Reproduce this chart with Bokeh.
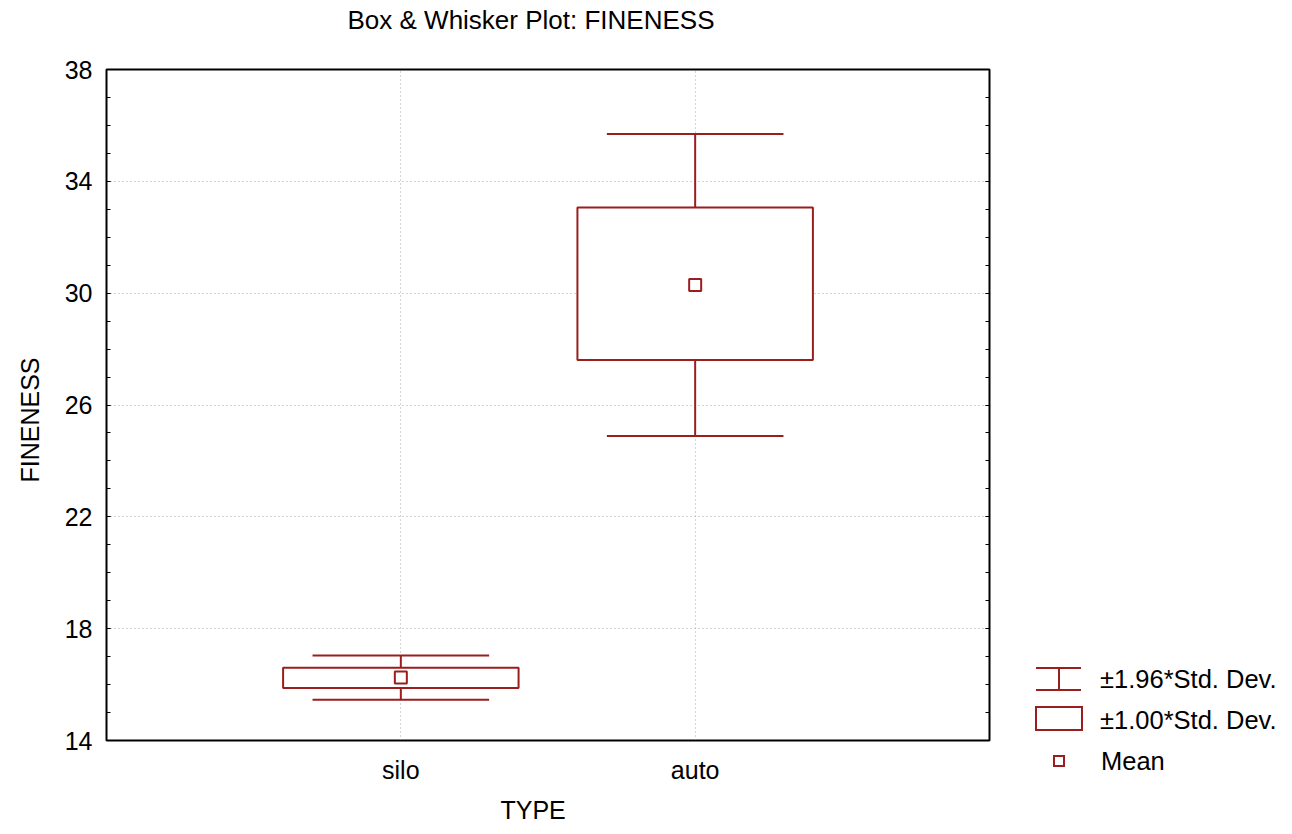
from bokeh.plotting import figure
from bokeh.models import Range1d, FixedTicker, LinearAxis, Title, Div
from bokeh.layouts import row, column
from bokeh.embed import file_html
from bokeh.resources import INLINE

categories = ["silo", "auto"]
means = [16.25, 30.29]
box_low = [15.88, 27.61]
box_high = [16.60, 33.06]
whisker_low = [15.46, 24.89]
whisker_high = [17.04, 35.69]
y_ticks = [14, 18, 22, 26, 30, 34, 38]
legend_labels = ["\u00b11.96*Std. Dev.", "\u00b11.00*Std. Dev.", "Mean"]
chart_title = "Box & Whisker Plot: FINENESS"

FONT = "Liberation Sans"
RED = "#9a1e1e"
xs = [i + 1 for i in range(len(categories))]
TOP = 40  # height of the title strip

# ---- title strip ----
title_svg = (
    f'<svg width="1292" height="{TOP}" style="display:block" xmlns="http://www.w3.org/2000/svg">'
    f'<text x="531" y="29" text-anchor="middle" font-family="{FONT}" font-size="26px" fill="black">'
    f'{chart_title.replace("&", "&amp;")}</text></svg>'
)
title_div = Div(text=title_svg, width=1292, height=TOP, margin=0)

# ---- main plot ----
p = figure(width=1010, height=834 - TOP, x_range=Range1d(0, len(categories) + 1),
           y_range=Range1d(y_ticks[0], y_ticks[-1]),
           output_backend="svg", toolbar_location=None, margin=0,
           min_border_left=106, min_border_right=21, min_border_top=69 - TOP, min_border_bottom=93)
p.title.visible = False
tb = Title(text="TYPE", align="left", offset=394, text_font=FONT, text_font_size="25px",
           text_font_style="normal", text_color="black", standoff=18, vertical_align="top")
p.add_layout(tb, "below")
tl = Title(text="FINENESS", align="left", offset=258, text_font=FONT, text_font_size="25px",
           text_font_style="normal", text_color="black", standoff=31, vertical_align="top")
p.add_layout(tl, "left")

p.outline_line_color = "black"
p.outline_line_width = 2
p.background_fill_color = "white"
p.border_fill_color = "white"

ytick = FixedTicker(ticks=y_ticks, minor_ticks=list(range(y_ticks[0], y_ticks[-1] + 1)))
p.yaxis.ticker = ytick
p.xaxis.ticker = FixedTicker(ticks=xs)
p.xaxis.major_label_overrides = {x: c for x, c in zip(xs, categories)}

for ax in [p.xaxis[0], p.yaxis[0]]:
    ax.axis_line_color = "black"
    ax.axis_line_width = 1
    ax.major_label_text_font = FONT
    ax.major_label_text_font_size = "25px"
    ax.major_label_text_color = "black"
    ax.major_tick_out = 0
    ax.minor_tick_out = 0
p.yaxis.major_tick_in = 4
p.yaxis.minor_tick_in = 4
p.yaxis.major_tick_line_color = "black"
p.yaxis.minor_tick_line_color = "black"
p.yaxis.major_label_standoff = 14
p.xaxis.major_tick_in = 0
p.xaxis.minor_tick_in = 0
p.xaxis.major_tick_line_color = None
p.xaxis.minor_tick_line_color = None
p.xaxis.major_label_standoff = 15

rax = LinearAxis(ticker=ytick, axis_line_color="black",
                 major_tick_in=4, major_tick_out=0, minor_tick_in=4, minor_tick_out=0,
                 major_tick_line_color="black", minor_tick_line_color="black",
                 major_label_standoff=0, major_label_overrides={v: "" for v in y_ticks})
p.add_layout(rax, "right")

p.xgrid.ticker = FixedTicker(ticks=xs)
for g in [p.xgrid[0], p.ygrid[0]]:
    g.grid_line_color = "#a8a8a8"
    g.grid_line_dash = "1 3"
    g.grid_line_width = 1

cap = 0.3
bw = 0.4
p.segment(x0=xs, x1=xs, y0=whisker_low, y1=box_low, line_color=RED, line_width=2)
p.segment(x0=xs, x1=xs, y0=box_high, y1=whisker_high, line_color=RED, line_width=2)
p.segment(x0=[x - cap for x in xs], x1=[x + cap for x in xs], y0=whisker_low, y1=whisker_low,
          line_color=RED, line_width=2)
p.segment(x0=[x - cap for x in xs], x1=[x + cap for x in xs], y0=whisker_high, y1=whisker_high,
          line_color=RED, line_width=2)
p.quad(left=[x - bw for x in xs], right=[x + bw for x in xs], bottom=box_low, top=box_high,
       fill_color="white", line_color=RED, line_width=2)
p.scatter(x=xs, y=means, marker="square", size=12, fill_color="white", line_color=RED, line_width=2)

# ---- legend panel (page x - 1010, page y - TOP) ----
ox, oy = 1010, TOP
leg_svg = (
    f'<svg width="282" height="{834 - TOP}" style="display:block" xmlns="http://www.w3.org/2000/svg">'
    f'<g stroke="{RED}" stroke-width="2" fill="white">'
    f'<line x1="{1036 - ox}" y1="{668 - oy}" x2="{1081 - ox}" y2="{668 - oy}"/>'
    f'<line x1="{1036 - ox}" y1="{690 - oy}" x2="{1081 - ox}" y2="{690 - oy}"/>'
    f'<line x1="{1059 - ox}" y1="{668 - oy}" x2="{1059 - ox}" y2="{690 - oy}"/>'
    f'<rect x="{1036 - ox}" y="{707 - oy}" width="46" height="23"/>'
    f'<rect x="{1054 - ox}" y="{756 - oy}" width="10" height="10"/>'
    f'</g>'
    f'<g font-family="{FONT}" font-size="25.5px" fill="black">'
    f'<text x="{1100 - ox}" y="{688 - oy}">{legend_labels[0]}</text>'
    f'<text x="{1100 - ox}" y="{729 - oy}">{legend_labels[1]}</text>'
    f'<text x="{1101 - ox}" y="{770 - oy}">{legend_labels[2]}</text>'
    f'</g></svg>'
)
leg_div = Div(text=leg_svg, width=282, height=834 - TOP, margin=0)

layout = column(title_div, row(p, leg_div, margin=0), margin=0)
open("out.html", "w").write(file_html(layout, INLINE))
